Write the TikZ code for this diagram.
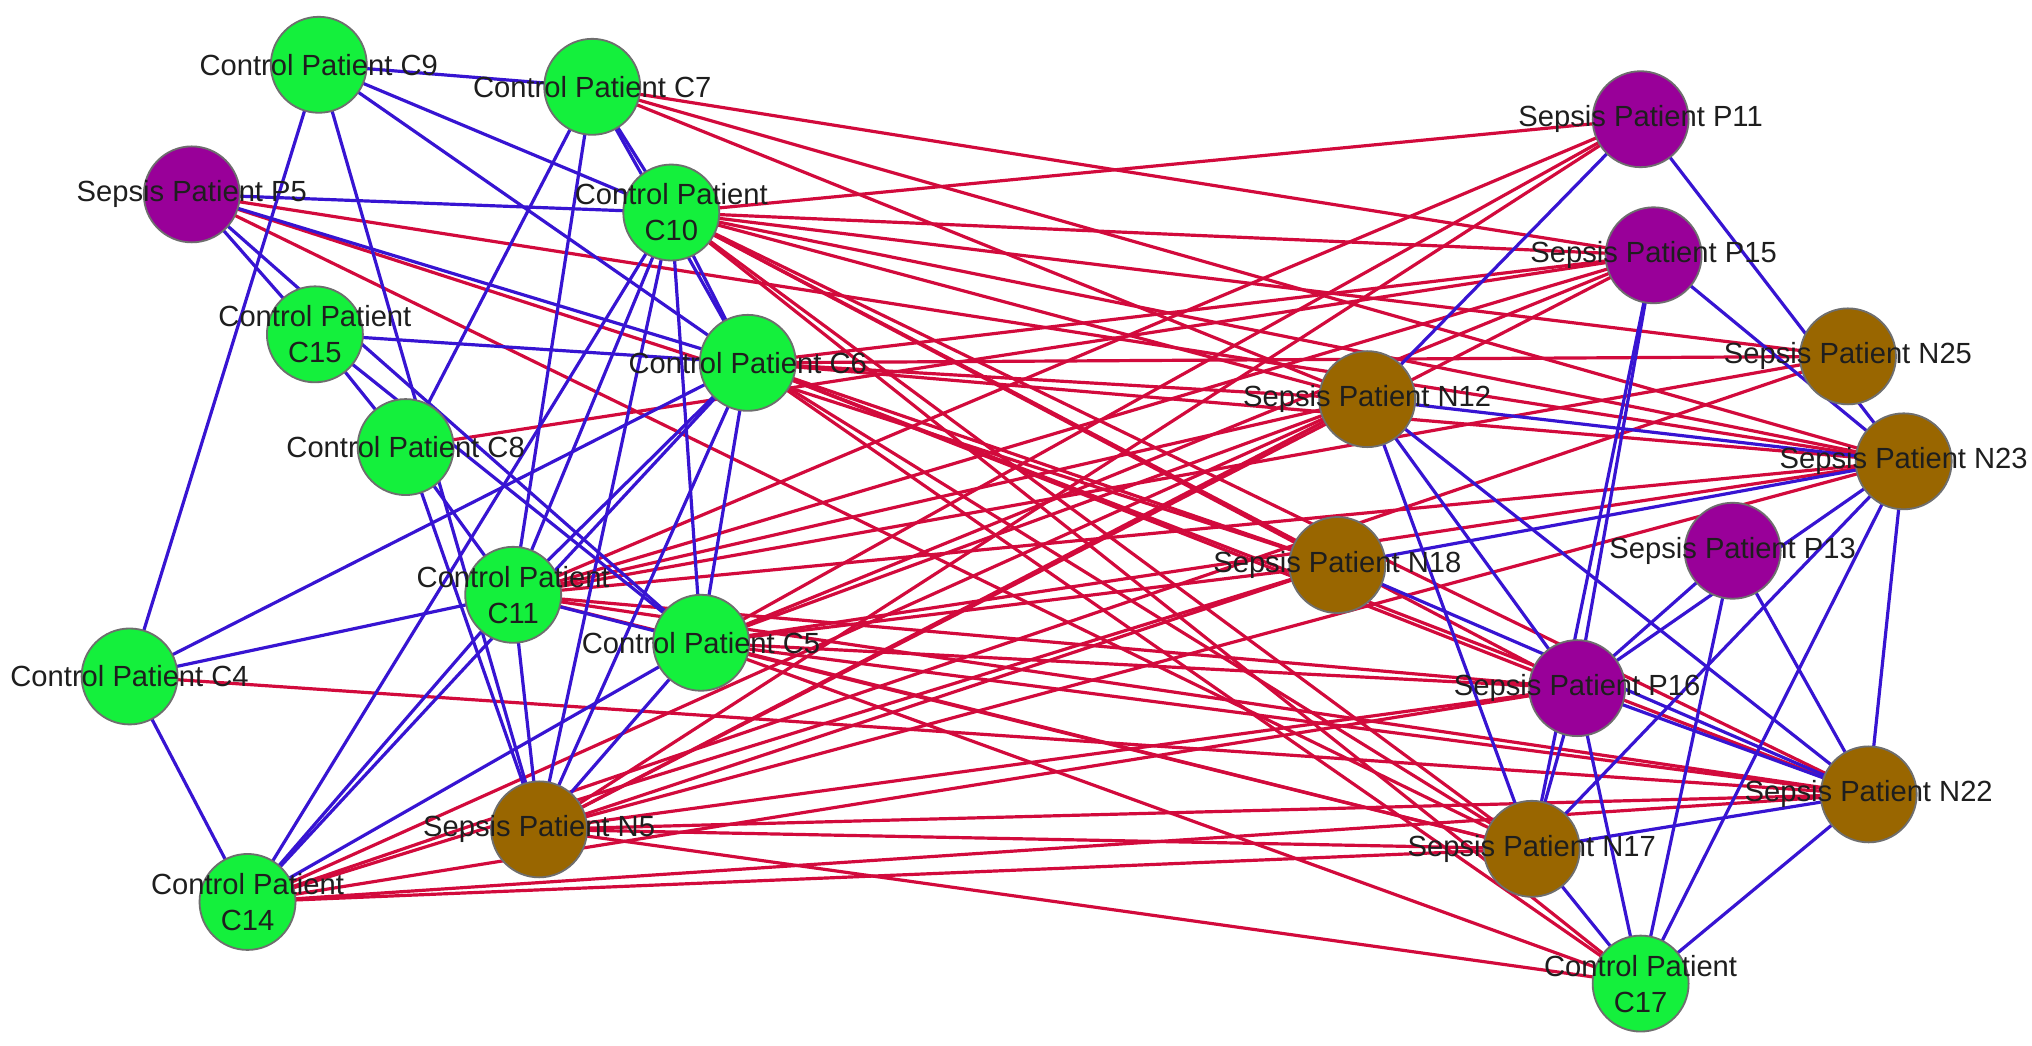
\documentclass[tikz,border=0pt]{standalone}
\usepackage{fontspec}
\setmainfont{Liberation Sans}
\pgfdeclarelayer{background}
\pgfsetlayers{background,main}
\definecolor{ngreen}{RGB}{20,240,60}
\definecolor{npurple}{RGB}{153,0,153}
\definecolor{nbrown}{RGB}{153,102,0}
\definecolor{eblue}{RGB}{55,20,210}
\definecolor{ered}{RGB}{210,10,60}
\definecolor{nborder}{RGB}{110,110,110}
\definecolor{ltext}{RGB}{30,30,30}
\tikzset{
  pnode/.style={circle,draw=nborder,line width=0.4pt,minimum size=0.74cm,inner sep=0pt},
  gn/.style={pnode,fill=ngreen},
  pn/.style={pnode,fill=npurple},
  bn/.style={pnode,fill=nbrown},
  lbl/.style={text=ltext,font=\fontsize{6.4}{7.9}\selectfont,align=center,inner sep=0pt},
  be/.style={draw=eblue,line width=0.7pt},
  re/.style={draw=ered,line width=0.7pt}
}
\begin{document}
\begin{tikzpicture}[x=0.01cm,y=-0.01cm]
\useasboundingbox (0,0) rectangle (1568,807);
% left cluster
\node[gn] (c9) at (246,50) {};
\node[gn] (c7) at (457,67) {};
\node[pn] (p5) at (148,150) {};
\node[gn] (c10) at (518,164) {};
\node[gn] (c15) at (243,258) {};
\node[gn] (c6) at (577,280) {};
\node[gn] (c8) at (313,345) {};
\node[gn] (c11) at (396,459) {};
\node[gn] (c5) at (541,496) {};
\node[gn] (c4) at (100,522) {};
\node[bn] (n5) at (416,640) {};
\node[gn] (c14) at (191,696) {};
% right cluster
\node[pn] (p11) at (1266,92) {};
\node[pn] (p15) at (1276,197) {};
\node[bn] (n25) at (1426,275) {};
\node[bn] (n12) at (1055,308) {};
\node[bn] (n23) at (1469,356) {};
\node[bn] (n18) at (1032,436) {};
\node[pn] (p13) at (1337,425) {};
\node[pn] (p16) at (1217,531) {};
\node[bn] (n22) at (1442,613) {};
\node[bn] (n17) at (1182,655) {};
\node[gn] (c17) at (1266,759) {};
\begin{pgfonlayer}{background}
\fill[white] (0,0) rectangle (1568,807);
\foreach \a/\b in {
  c7/p15,c7/n23,c7/n12,
  p5/n23,p5/n18,p5/n17,
  c10/p11,c10/p15,c10/n25,c10/n23,c10/n12,c10/n18,c10/p16,c10/n22,c10/n17,c10/c17,
  c6/p15,c6/n25,c6/n12,c6/n23,c6/n18,c6/p16,c6/n22,c6/n17,c6/c17,
  c8/p15,
  c11/p11,c11/p15,c11/n12,c11/n25,c11/n23,c11/p16,c11/n22,c11/n17,
  c5/p11,c5/p15,c5/n12,c5/n23,c5/n18,c5/p16,c5/n22,c5/n17,c5/c17,
  c4/n22,
  n5/p11,n5/p15,n5/n12,n5/n18,n5/n23,n5/p16,n5/n22,n5/n17,n5/c17,
  c14/n12,c14/n18,c14/n25,c14/p16,c14/n22,c14/n17}
  \draw[re] (\a.center) -- (\b.center);
\foreach \a/\b in {
  c9/c7,c9/c10,c9/c6,c9/c4,c9/n5,
  p5/c10,p5/c15,p5/c6,p5/c5,
  c15/c6,c15/c5,c15/c8,
  c7/c10,c7/c6,c7/c8,c7/c11,
  c10/c6,c10/c11,c10/c14,c10/n5,c10/c5,
  c6/c4,c6/c11,c6/c14,c6/n5,c6/c5,
  c8/c11,c8/n5,
  c11/c4,c11/c14,c11/n5,c11/c5,
  c5/c14,c5/n5,c4/c14,
  p11/n12,p11/n23,p15/n23,p15/p16,p15/n17,
  n12/n23,n12/p16,n12/n17,n12/n22,
  n18/n23,n18/n22,
  p13/p16,p13/n22,p13/c17,
  n23/p16,n23/n17,n23/c17,n23/n22,
  p16/n22,p16/n17,p16/c17,
  n17/n22,n17/c17,n22/c17}
  \draw[be] (\a.center) -- (\b.center);
\end{pgfonlayer}
% labels
\node[lbl] (c9t) at (c9) {Control Patient C9};
\node[lbl] (c7t) at (c7) {Control Patient C7};
\node[lbl] (p5t) at (p5) {Sepsis Patient P5};
\node[lbl] (c10t) at (c10) {Control Patient\\C10};
\node[lbl] (c15t) at (c15) {Control Patient\\C15};
\node[lbl] (c6t) at (c6) {Control Patient C6};
\node[lbl] (c8t) at (c8) {Control Patient C8};
\node[lbl] (c11t) at (c11) {Control Patient\\C11};
\node[lbl] (c5t) at (c5) {Control Patient C5};
\node[lbl] (c4t) at (c4) {Control Patient C4};
\node[lbl] (n5t) at (n5) {Sepsis Patient N5};
\node[lbl] (c14t) at (c14) {Control Patient\\C14};
\node[lbl] (p11t) at (p11) {Sepsis Patient P11};
\node[lbl] (p15t) at (p15) {Sepsis Patient P15};
\node[lbl] (n25t) at (n25) {Sepsis Patient N25};
\node[lbl] (n12t) at (n12) {Sepsis Patient N12};
\node[lbl] (n23t) at (n23) {Sepsis Patient N23};
\node[lbl] (n18t) at (n18) {Sepsis Patient N18};
\node[lbl] (p13t) at (p13) {Sepsis Patient P13};
\node[lbl] (p16t) at (p16) {Sepsis Patient P16};
\node[lbl] (n22t) at (n22) {Sepsis Patient N22};
\node[lbl] (n17t) at (n17) {Sepsis Patient N17};
\node[lbl] (c17t) at (c17) {Control Patient\\C17};
\end{tikzpicture}
\end{document}
